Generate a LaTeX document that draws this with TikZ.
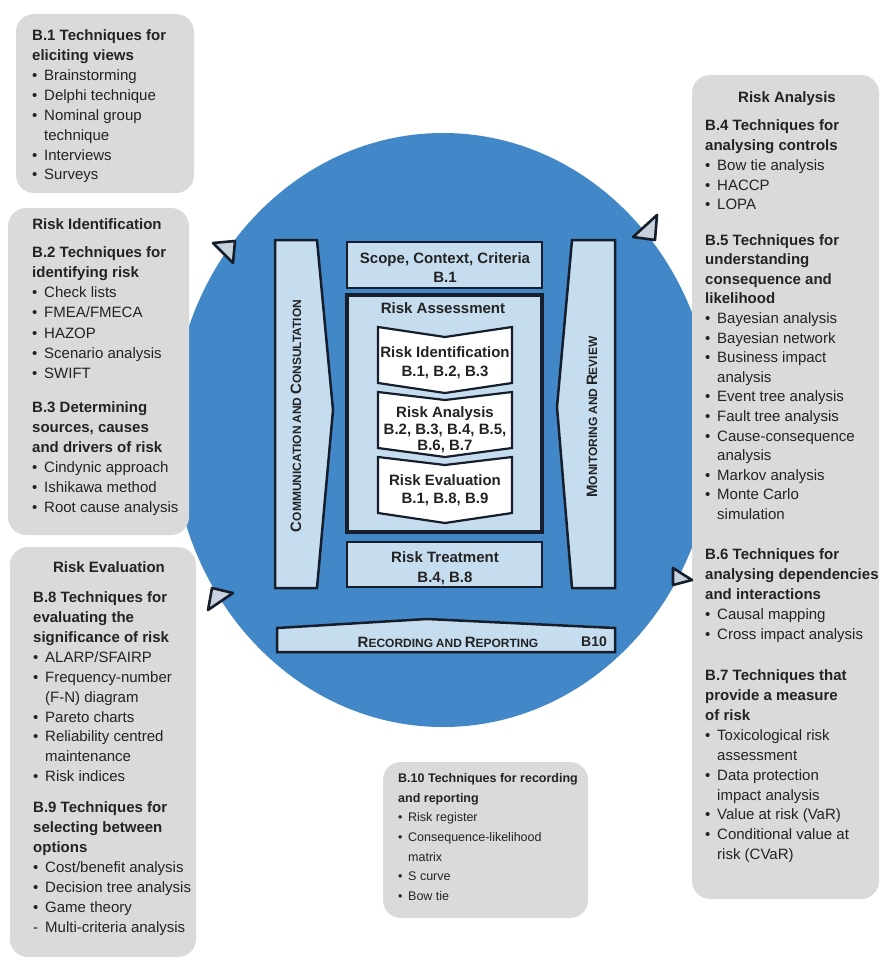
\documentclass[tikz,border=0pt]{standalone}
\usepackage{fontspec}
\setmainfont{Liberation Sans}
\definecolor{circblue}{RGB}{66,136,201}
\definecolor{lblue}{RGB}{198,221,240}
\definecolor{dk}{RGB}{22,30,44}
\definecolor{gbox}{RGB}{218,218,218}
\definecolor{txt}{RGB}{35,35,35}
\definecolor{trifill}{RGB}{200,210,222}
\newcommand\bi[1]{\makebox[12pt][l]{\textbullet}#1}
\newcommand\ci[1]{\hspace*{12pt}#1}
\newcommand\scx[2]{{\fontsize{15}{15}\selectfont #1}{\fontsize{12}{12}\selectfont #2}}
\tikzset{
  graybox/.style={fill=gbox, rounded corners=18pt},
  listtext/.style={anchor=north west, align=left, inner sep=0pt, text=txt},
  boxtitle/.style={anchor=base, inner sep=0pt, text=txt, font=\bfseries\fontsize{15}{18}\selectfont},
  shapebox/.style={fill=lblue, draw=dk, line width=2.5pt},
  chev/.style={fill=white, draw=dk, line width=2.2pt},
  ctext/.style={align=center, inner sep=0pt, text=txt},
  marker/.style={fill=trifill, draw=dk, line width=2.6pt, line join=round}
}
\begin{document}
\begin{tikzpicture}[x=1pt,y=-1pt]
\useasboundingbox[fill=white] (0,0) rectangle (879,960);
% big disc
\fill[circblue] (443,430) ellipse [x radius=271, y radius=297];

% gray boxes
\fill[graybox] (16,14) rectangle (194,193);
\fill[graybox] (8,208) rectangle (189,535);
\fill[graybox] (10,547) rectangle (196,957);
\fill[graybox] (692,75) rectangle (879,899);
\fill[graybox] (383,762) rectangle (588,918);

% box 1
\node[listtext, font=\fontsize{15}{19.9}\selectfont] (b1) at (32,29.6)
 {\textbf{B.1 Techniques for}\\\textbf{eliciting views}\\\bi{Brainstorming}\\\bi{Delphi technique}\\\bi{Nominal group}\\\ci{technique}\\\bi{Interviews}\\\bi{Surveys}};

% box 2
\node[boxtitle] (t2) at (97,229.5) {Risk Identification};
\node[listtext, font=\fontsize{15}{20.1}\selectfont] (b2) at (32,246.6)
 {\textbf{B.2 Techniques for}\\\textbf{identifying risk}\\\bi{Check lists}\\\bi{FMEA/FMECA}\\\bi{HAZOP}\\\bi{Scenario analysis}\\\bi{SWIFT}};
\node[listtext, font=\fontsize{15}{20}\selectfont] (b3) at (32,401.6)
 {\textbf{B.3 Determining}\\\textbf{sources, causes}\\\textbf{and drivers of risk}\\\bi{Cindynic approach}\\\bi{Ishikawa method}\\\bi{Root cause analysis}};

% box 3
\node[boxtitle] (t3) at (109,572.5) {Risk Evaluation};
\node[listtext, font=\fontsize{15}{19.9}\selectfont] (b8) at (33,591.6)
 {\textbf{B.8 Techniques for}\\\textbf{evaluating the}\\\textbf{significance of risk}\\\bi{ALARP/SFAIRP}\\\bi{Frequency-number}\\\ci{(F-N) diagram}\\\bi{Pareto charts}\\\bi{Reliability centred}\\\ci{maintenance}\\\bi{Risk indices}};
\node[listtext, font=\fontsize{15}{19.9}\selectfont] (b9) at (33,801.6)
 {\textbf{B.9 Techniques for}\\\textbf{selecting between}\\\textbf{options}\\\bi{Cost/benefit analysis}\\\bi{Decision tree analysis}\\\bi{Game theory}\\\makebox[12pt][l]{-}Multi-criteria analysis};

% right box
\node[boxtitle] (t4) at (787,102.5) {Risk Analysis};
\node[listtext, font=\fontsize{15}{19.8}\selectfont] (b4) at (705,119.6)
 {\textbf{B.4 Techniques for}\\\textbf{analysing controls}\\\bi{Bow tie analysis}\\\bi{HACCP}\\\bi{LOPA}};
\node[listtext, font=\fontsize{15}{19.6}\selectfont] (b5) at (705,234.1)
 {\textbf{B.5 Techniques for}\\\textbf{understanding}\\\textbf{consequence and}\\\textbf{likelihood}\\\bi{Bayesian analysis}\\\bi{Bayesian network}\\\bi{Business impact}\\\ci{analysis}\\\bi{Event tree analysis}\\\bi{Fault tree analysis}\\\bi{Cause-consequence}\\\ci{analysis}\\\bi{Markov analysis}\\\bi{Monte Carlo}\\\ci{simulation}};
\node[listtext, font=\fontsize{15}{20}\selectfont] (b6) at (705,548.6)
 {\textbf{B.6 Techniques for}\\\textbf{analysing dependencies}\\\textbf{and interactions}\\\bi{Causal mapping}\\\bi{Cross impact analysis}};
\node[listtext, font=\fontsize{15}{19.9}\selectfont] (b7) at (705,669.6)
 {\textbf{B.7 Techniques that}\\\textbf{provide a measure}\\\textbf{of risk}\\\bi{Toxicological risk}\\\ci{assessment}\\\bi{Data protection}\\\ci{impact analysis}\\\bi{Value at risk (VaR)}\\\bi{Conditional value at}\\\ci{risk (CVaR)}};

% bottom box
\node[listtext, font=\fontsize{12.5}{19.6}\selectfont] (b10) at (398,773.4)
 {\textbf{B.10 Techniques for recording}\\\textbf{and reporting}\\\makebox[10pt][l]{\textbullet}Risk register\\\makebox[10pt][l]{\textbullet}Consequence-likelihood\\\hspace*{10pt}matrix\\\makebox[10pt][l]{\textbullet}S curve\\\makebox[10pt][l]{\textbullet}Bow tie};

% central shapes
\draw[shapebox] (275,240) -- (317,240) -- (333,410) -- (317,588) -- (275,588) -- cycle;
\draw[shapebox] (572,240) -- (615,240) -- (615,588) -- (572,588) -- (557,407) -- cycle;
\draw[shapebox] (347,242) rectangle (542,288);
\draw[shapebox, line width=3.5pt] (347,295) rectangle (542,532);
\draw[shapebox] (347,542) rectangle (542,587);
\draw[shapebox] (277,628) -- (427,619) -- (615,628) -- (615,652) -- (277,652) -- cycle;
\draw[chev] (378,327) -- (445,337) -- (512,327) -- (512,383) -- (445,393) -- (378,383) -- cycle;
\draw[chev] (378,392) -- (445,400) -- (512,392) -- (512,448) -- (445,457) -- (378,448) -- cycle;
\draw[chev] (378,457) -- (445,465) -- (512,457) -- (512,513) -- (445,523) -- (378,513) -- cycle;

% central texts
\node[ctext, font=\bfseries\fontsize{15}{19}\selectfont] (scope) at (445,268) {Scope, Context, Criteria\\B.1};
\node[ctext, anchor=base, font=\bfseries\fontsize{15}{18}\selectfont] (ra) at (443,313) {Risk Assessment};
\node[ctext, font=\bfseries\fontsize{15}{19}\selectfont] (rid) at (445,363) {Risk Identification\\B.1, B.2, B.3};
\node[ctext, font=\bfseries\fontsize{15}{16.5}\selectfont] (ran) at (445,430) {Risk Analysis\\B.2, B.3, B.4, B.5,\\B.6, B.7};
\node[ctext, font=\bfseries\fontsize{15}{18}\selectfont] (rev) at (445,490) {Risk Evaluation\\B.1, B.8, B.9};
\node[ctext, font=\bfseries\fontsize{15}{20}\selectfont] (rt) at (445,568) {Risk Treatment\\B.4, B.8};
\node[ctext, rotate=90, font=\bfseries] (comm) at (296,416) {\scx{C}{OMMUNICATION} \scx{}{AND} \scx{C}{ONSULTATION}};
\node[ctext, rotate=90, font=\bfseries] (mon) at (592,417) {\scx{M}{ONITORING} \scx{}{AND} \scx{R}{EVIEW}};
\node[ctext, font=\bfseries] (rec) at (448,642) {\scx{R}{ECORDING} \scx{}{AND} \scx{R}{EPORTING}};
\node[ctext, font=\bfseries\fontsize{14}{16}\selectfont] (b10lab) at (594,642) {B10};

% direction markers
\draw[marker] (213,243) -- (235,241) -- (233,263) -- cycle;
\draw[marker] (633,237) -- (657,215) -- (655,240) -- cycle;
\draw[marker] (212,588) -- (233,593) -- (208,610) -- cycle;
\draw[marker] (673,568) -- (692,580) -- (673,585) -- cycle;
\end{tikzpicture}
\end{document}
